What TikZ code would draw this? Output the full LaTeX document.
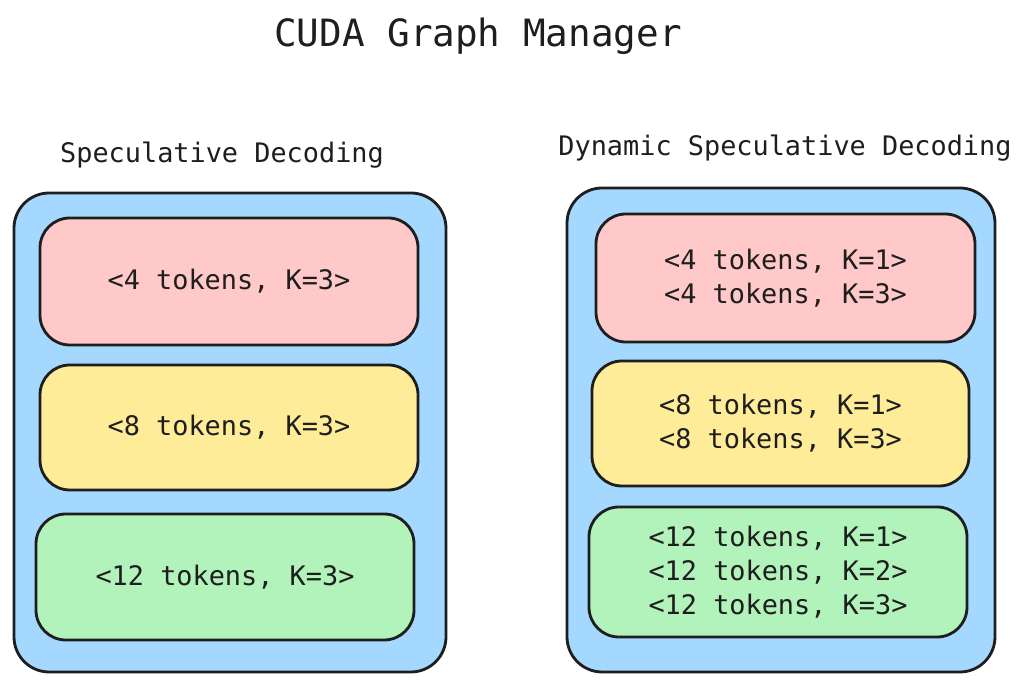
\documentclass[tikz,border=0pt]{standalone}
\usepackage{fontspec}
\setmonofont{DejaVu Sans Mono}
\usetikzlibrary{positioning}
\definecolor{ink}{HTML}{1E1E1E}
\definecolor{panelblue}{HTML}{A5D8FF}
\definecolor{slotpink}{HTML}{FFC9C9}
\definecolor{slotyellow}{HTML}{FFEC99}
\definecolor{slotgreen}{HTML}{B2F2BB}
\tikzset{
  panel/.style={draw=ink, line width=1.6pt, rounded corners=20pt, fill=panelblue, inner sep=0pt},
  slot/.style={draw=ink, line width=1.6pt, rounded corners=17pt, inner sep=0pt, align=center,
    text=ink, font=\ttfamily\fontsize{15.3}{19.3}\selectfont},
  heading/.style={text=ink, font=\ttfamily\fontsize{15.3}{18}\selectfont},
}

\begin{document}
\begin{tikzpicture}[x=0.02cm,y=-0.02cm]

    \useasboundingbox (0,0) rectangle (1028,685);

    \node[text=ink, font=\ttfamily\fontsize{21.4}{24}\selectfont] (title) at (478,36) {CUDA Graph Manager};

    % ----- Panels
    \node[heading] (spechead) at (222,155) {Speculative Decoding};
    \node[heading] (dynhead) at (785,148) {Dynamic Speculative Decoding};
    \node[panel, minimum width=432*0.02cm, minimum height=479*0.02cm] (specpanel) at (230,432.5) {};
    \node[panel, minimum width=428*0.02cm, minimum height=484*0.02cm] (dynpanel) at (781,430) {};

    % ----- Graph slots
    \foreach \name/\cx/\cy/\w/\h/\col/\txt in {
        spec4/229/281.5/378/127/slotpink/{<4 tokens, K=3>},
        spec8/229/427.5/378/125/slotyellow/{<8 tokens, K=3>},
        spec12/225/577/378/126/slotgreen/{<12 tokens, K=3>},
        dyn4/785.5/278/379/128/slotpink/{<4 tokens, K=1>\\<4 tokens, K=3>},
        dyn8/780.5/423.5/377/125/slotyellow/{<8 tokens, K=1>\\<8 tokens, K=3>},
        dyn12/778/572/378/130/slotgreen/{<12 tokens, K=1>\\<12 tokens, K=2>\\<12 tokens, K=3>}}
        \node[slot, fill=\col, minimum width=\w*0.02cm, minimum height=\h*0.02cm] (\name) at (\cx,\cy) {\txt};

\end{tikzpicture}
\end{document}
